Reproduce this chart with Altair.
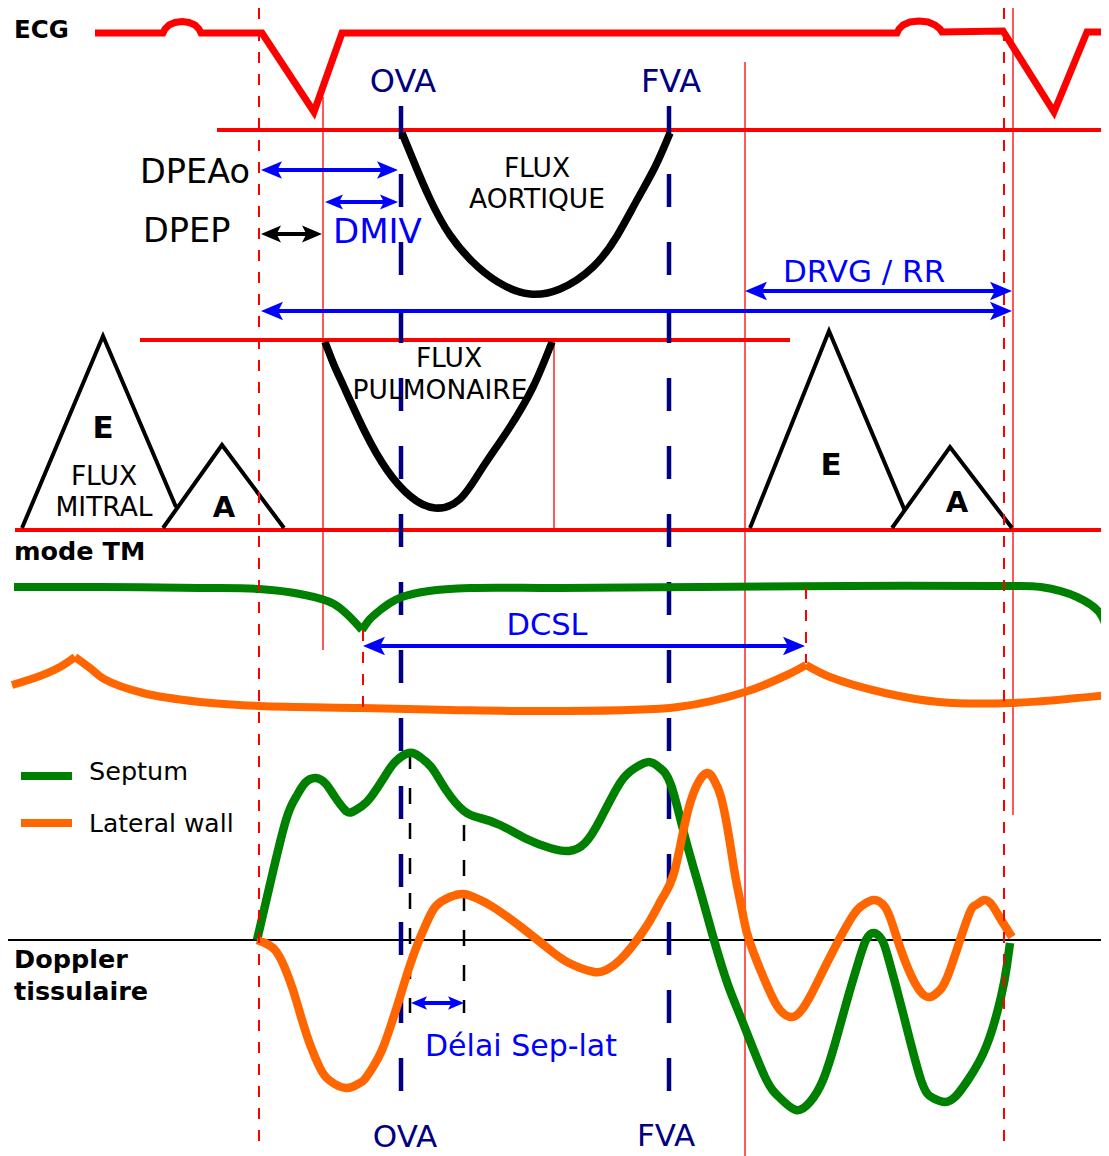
import altair as alt
import pandas as pd

# ------------------------------------------------------------------
# Diagram data (pixel-space coordinates)
# ------------------------------------------------------------------
RED, GREEN, ORANGE, NAVY, BLUE, BLACK = "#ff0000", "#008000", "#ff6600", "#000080", "#0000ff", "#000000"

# ECG trace
ecg_x = [95, 163, 165, 169, 175, 182, 189, 195, 199, 201, 262, 314, 342,
         897, 899, 903, 910, 919, 928, 935, 940, 942, 1003, 1054, 1087, 1109]
ecg_y = [33, 33, 29, 25, 22.5, 21.5, 22.5, 25, 29, 33, 33, 112, 33,
         33, 29, 25, 22, 21, 22, 25, 29, 32, 31, 112, 32, 32]

# E / A waves (triangles)
tri_x = [[22, 103, 176], [163, 222, 284], [750, 829, 905], [892, 950, 1012]]
tri_y = [[528, 336, 507], [528, 445, 528], [528, 331, 511], [528, 447, 528]]

# Aortic flow
aort_x = [402, 416, 430, 450, 478, 505, 530, 560, 593, 617, 637, 655, 670]
aort_y = [133, 167, 199, 235, 267, 286, 294, 289, 267, 236, 200, 167, 133]
# Pulmonary flow
pulm_x = [325, 334, 344, 365, 387, 410, 435, 460, 481, 508, 533, 552]
pulm_y = [342, 365, 387, 432, 470, 496, 508, 499, 470, 430, 387, 342]

# TM mode - septum (split at cusp)
tmS1_x = [14, 100, 200, 259, 300, 334, 362]
tmS1_y = [587, 587, 588, 589, 594, 604, 630]
tmS2_x = [362, 370, 379, 390, 402, 429, 470, 560, 700, 850, 1000, 1041, 1077, 1099, 1108]
tmS2_y = [630, 619, 611, 603, 597, 591, 588, 588, 587, 586, 586, 587, 597, 612, 633]
# TM mode - lateral wall (split at cusps)
tmL1_x = [12, 40, 60, 75]
tmL1_y = [685, 676, 667, 657]
tmL2_x = [75, 90, 104, 143, 200, 259, 362, 450, 540, 678, 745, 787, 806]
tmL2_y = [657, 668, 679, 693, 702, 706, 708, 710, 711, 707, 692, 675, 665]
tmL3_x = [806, 830, 885, 939, 1012, 1109]
tmL3_y = [665, 677, 693, 702, 703, 695]

# Tissue Doppler - septum
dS_x = [257, 271, 286, 296, 305, 316, 326, 335, 345, 352, 362, 371, 385, 395, 409, 420, 432, 446,
        464, 480, 500, 529, 550, 569, 585, 600, 620, 635, 649, 660, 671, 685, 700, 714, 728, 743,
        765, 780, 796, 810, 823, 836, 848, 859, 866, 874, 882, 888, 903, 921, 933, 945, 956, 968,
        986, 1001, 1007, 1010]
dS_y = [940, 880, 820, 797, 783, 778, 784, 797, 810, 812, 806, 797, 776, 762, 753, 757, 768, 790,
        811, 818, 825, 840, 848, 851, 843, 820, 783, 768, 762, 768, 785, 837, 890, 940, 985, 1023,
        1077, 1098, 1110, 1102, 1080, 1040, 997, 960, 940, 933, 940, 957, 1013, 1080, 1098, 1102, 1096, 1080,
        1047, 997, 965, 943]
# Tissue Doppler - lateral wall
dL_x = [257, 265, 275, 284, 293, 302, 311, 320, 329, 346, 358, 364, 373, 382, 391, 400, 409, 418,
        427, 436, 450, 464, 478, 493, 521, 550, 569, 594, 606, 620, 642, 656, 663, 674, 685, 696,
        707, 714, 721, 729, 736, 743, 750, 769, 780, 790, 800, 812, 830, 852, 863, 874, 885, 892,
        901, 910, 920, 930, 940, 950, 968, 976, 984, 992, 1000, 1012]
dL_y = [940, 943, 950, 966, 990, 1020, 1047, 1068, 1080, 1088, 1084, 1080, 1067, 1050, 1025, 997, 968, 943,
        922, 906, 897, 894, 899, 907, 927, 950, 963, 972, 970, 960, 933, 910, 897, 873, 823, 787,
        773, 780, 797, 837, 880, 915, 943, 990, 1010, 1017, 1012, 993, 957, 917, 905, 900, 907, 923,
        950, 973, 991, 997, 990, 970, 917, 905, 900, 905, 918, 937]

# Straight segments: x, y, x2, y2, colour, width
solid_segs = [
    (217, 130, 1109, 130, RED, 4), (140, 340, 790, 340, RED, 4), (15, 530, 1109, 530, RED, 4),
    (323, 97, 323, 650, RED, 1.3), (745, 62, 745, 1156, RED, 1.3), (1013, 8, 1013, 815, RED, 1.3),
    (554, 340, 554, 528, RED, 1.3),
    (8, 940, 1109, 940, BLACK, 2),
    (21, 776, 72, 776, GREEN, 8), (21, 823, 72, 823, ORANGE, 8),
]
red_dash_segs = [(259, 8, 259, 1145), (1004, 8, 1004, 1145), (363, 630, 363, 708), (806, 588, 806, 663)]
navy_dash_segs = [(401, 106, 401, 1095), (669, 106, 669, 1095)]
black_dash_segs = [(410, 753, 410, 1013), (464, 825, 464, 1013)]

# Double arrows: left tip, right tip, y, colour, head length
arrow_x1 = [261, 325, 261, 745, 261, 363, 411]
arrow_x2 = [398, 398, 322, 1012, 1012, 805, 464]
arrow_y = [170, 202, 234, 291, 311, 646, 1003]
arrow_c = [BLUE, BLUE, BLACK, BLUE, BLUE, BLUE, BLUE]
arrow_h = [21, 18, 20, 22, 22, 22, 16]

# Texts
bold_left = [("ECG", 14, 38, 24.5), ("mode TM", 14, 560, 25.5), ("Doppler", 14, 968, 25.5), ("tissulaire", 14, 1000, 25.5)]
bold_center = [("E", 103, 438, 31), ("A", 224, 517, 29), ("E", 831, 475, 31), ("A", 957, 512, 29)]
norm_left = [("DPEAo", 140, 183, 33.5, BLACK), ("DPEP", 143, 242, 33.5, BLACK), ("DMIV", 333, 243, 34, BLUE),
             ("Septum", 89, 780, 25.5, BLACK), ("Lateral wall", 89, 832, 25, BLACK),
             ("Délai Sep-lat", 425, 1056, 30, BLUE), ("DRVG / RR", 783, 282, 31, BLUE)]
norm_center = [("OVA", 403, 92, 32, NAVY), ("FVA", 671, 92, 32, NAVY),
               ("FLUX", 537, 177, 26.5, BLACK), ("AORTIQUE", 537, 208, 26.5, BLACK),
               ("FLUX", 449, 367, 26.5, BLACK), ("PULMONAIRE", 440, 399, 26.5, BLACK),
               ("FLUX", 104, 485, 26.5, BLACK), ("MITRAL", 104, 516, 26.5, BLACK),
               ("DCSL", 547, 635, 30.5, BLUE), ("OVA", 405, 1147, 31, NAVY), ("FVA", 666, 1146, 31, NAVY)]

# ------------------------------------------------------------------
# Build tables
# ------------------------------------------------------------------
def poly(name, xs, ys, color, width):
    return [dict(g=name, o=i, x=x, y=y, c=color, w=width) for i, (x, y) in enumerate(zip(xs, ys))]

lin_rows = poly("ecg", ecg_x, ecg_y, RED, 7)
for i, (tx, ty) in enumerate(zip(tri_x, tri_y)):
    lin_rows += poly(f"tri{i}", tx, ty, BLACK, 4)
lin_df = pd.DataFrame(lin_rows)

tm_rows = []
tm_rows += poly("tmS1", tmS1_x, tmS1_y, GREEN, 8)
tm_rows += poly("tmS2", tmS2_x, tmS2_y, GREEN, 8)
tm_rows += poly("tmL1", tmL1_x, tmL1_y, ORANGE, 8)
tm_rows += poly("tmL2", tmL2_x, tmL2_y, ORANGE, 8)
tm_rows += poly("tmL3", tmL3_x, tmL3_y, ORANGE, 8)
tm_df = pd.DataFrame(tm_rows)

sm_rows = []
sm_rows += poly("aort", aort_x, aort_y, BLACK, 7.5)
sm_rows += poly("pulm", pulm_x, pulm_y, BLACK, 7.5)
sm_rows += poly("dS", dS_x, dS_y, GREEN, 8.5)
sm_rows += poly("dL", dL_x, dL_y, ORANGE, 8.5)
sm_df = pd.DataFrame(sm_rows)

solid_df = pd.DataFrame(solid_segs, columns=["x", "y", "x2", "y2", "c", "w"])
rdash_df = pd.DataFrame(red_dash_segs, columns=["x", "y", "x2", "y2"])
ndash_df = pd.DataFrame(navy_dash_segs, columns=["x", "y", "x2", "y2"])
bdash_df = pd.DataFrame(black_dash_segs, columns=["x", "y", "x2", "y2"])

arr = pd.DataFrame({"x1": arrow_x1, "x2": arrow_x2, "y": arrow_y, "c": arrow_c, "h": arrow_h})
shaft_df = pd.DataFrame({"x": arr.x1 + 0.5 * arr.h, "x2": arr.x2 - 0.5 * arr.h,
                         "y": arr.y, "y2": arr.y, "c": arr.c})
headL_df = pd.DataFrame({"x": arr.x1, "y": arr.y, "c": arr.c, "s": (2 * arr.h) ** 2})
headR_df = pd.DataFrame({"x": arr.x2, "y": arr.y, "c": arr.c, "s": (2 * arr.h) ** 2})

tb_left = pd.DataFrame([dict(t=t, x=x, y=y, fs=f, c=BLACK) for t, x, y, f in bold_left])
tb_center = pd.DataFrame([dict(t=t, x=x, y=y, fs=f, c=BLACK) for t, x, y, f in bold_center])
tn_left = pd.DataFrame([dict(t=t, x=x, y=y, fs=f, c=c) for t, x, y, f, c in norm_left])
tn_center = pd.DataFrame([dict(t=t, x=x, y=y, fs=f, c=c) for t, x, y, f, c in norm_center])

# ------------------------------------------------------------------
# Chart
# ------------------------------------------------------------------
W, H = 1093, 1148
xs = alt.Scale(domain=[8, 8 + W], nice=False, zero=False)
ys = alt.Scale(domain=[8, 8 + H], nice=False, zero=False, reverse=True)
X = alt.X("x:Q", scale=xs, axis=None)
Y = alt.Y("y:Q", scale=ys, axis=None)
FONT = "DejaVu Sans"

def rules(df, **kw):
    enc = dict(x=X, y=Y, x2="x2:Q", y2="y2:Q")
    if "c" in df.columns:
        enc["color"] = alt.Color("c:N", scale=None)
    if "w" in df.columns:
        enc["strokeWidth"] = alt.StrokeWidth("w:Q", scale=None)
    return alt.Chart(df).mark_rule(**kw).encode(**enc)

solid = rules(solid_df, strokeCap="butt")
rdash = rules(rdash_df, color=RED, strokeWidth=2, strokeDash=[11, 11])
ndash = rules(ndash_df, color=NAVY, strokeWidth=4.5, strokeDash=[33, 35])
bdash = rules(bdash_df, color=BLACK, strokeWidth=2.5, strokeDash=[16, 19])

def lines(df, interp):
    return alt.Chart(df).mark_line(interpolate=interp, strokeJoin="miter", strokeCap="butt").encode(
        x=X, y=Y, detail="g:N", order="o:Q",
        color=alt.Color("c:N", scale=None),
        strokeWidth=alt.StrokeWidth("w:Q", scale=None),
    )

lin = lines(lin_df, "linear")
tm = lines(tm_df, "catmull-rom")
sm = lines(sm_df, "natural")

shafts = rules(shaft_df, strokeWidth=4)
RIGHT_HEAD = "M0,0L-1,-0.42L-0.78,0L-1,0.42Z"
LEFT_HEAD = "M0,0L1,-0.42L0.78,0L1,0.42Z"

def heads(df, shape):
    return alt.Chart(df).mark_point(shape=shape, filled=True, opacity=1, strokeWidth=0).encode(
        x=X, y=Y, color=alt.Color("c:N", scale=None), size=alt.Size("s:Q", scale=None))

def texts(df, align, weight):
    return alt.Chart(df).mark_text(align=align, baseline="alphabetic", font=FONT, fontWeight=weight).encode(
        x=X, y=Y, text="t:N", size=alt.Size("fs:Q", scale=None), color=alt.Color("c:N", scale=None))

chart = alt.layer(
    solid, ndash, bdash, lin, tm, sm, rdash, shafts,
    heads(headL_df, LEFT_HEAD), heads(headR_df, RIGHT_HEAD),
    texts(tb_left, "left", "bold"), texts(tb_center, "center", "bold"),
    texts(tn_left, "left", "normal"), texts(tn_center, "center", "normal"),
).properties(
    width=W, height=H, padding=0, autosize=alt.AutoSizeParams(type="none"),
    background="white",
).configure_view(stroke=None)

chart.save("out.html", embed_options={"renderer": "svg", "actions": False})
